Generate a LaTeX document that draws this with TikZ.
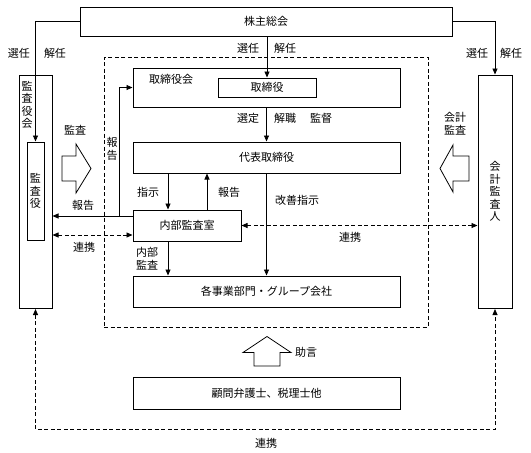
\documentclass[tikz,border=0pt]{standalone}
\usepackage{fontspec}
\newfontfamily\jp{Noto Sans CJK JP}
\usetikzlibrary{arrows.meta}

\begin{document}
\begin{tikzpicture}[x=1pt,y=-1pt,
    font=\jp\fontsize{11}{12.5}\selectfont,
    blk/.style={draw,line width=1pt,inner sep=0pt},
    arr/.style={line width=0.8pt,-{Triangle[length=6pt,width=5pt]}},
    dsh/.style={line width=0.8pt,dash pattern=on 4pt off 2.5pt},
    lbl/.style={inner sep=0pt},
    vert/.style={inner sep=0pt,align=center}]
    \useasboundingbox (0,0) rectangle (531,453);
    % boxes
    \node[blk,minimum width=372pt,minimum height=29pt] (soukai) at (266,21.5) {株主総会};
    \node[draw,dsh,minimum width=324pt,minimum height=270pt] (grp) at (266,192) {};
    \node[blk,minimum width=267pt,minimum height=39pt] (torikai) at (266.5,87.5) {};
    \node[blk,minimum width=98pt,minimum height=19pt] (toriyaku) at (267,87.5) {取締役};
    \node[blk,minimum width=267pt,minimum height=31pt] (daihyo) at (266.5,157.5) {代表取締役};
    \node[blk,minimum width=108pt,minimum height=31pt] (naibu) at (187,225.5) {内部監査室};
    \node[blk,minimum width=267pt,minimum height=31pt] (jigyo) at (266.5,291.5) {各事業部門・グループ会社};
    \node[blk,minimum width=267pt,minimum height=32pt] (komon) at (266.5,393) {顧問弁護士、税理士他};
    \node[blk,minimum width=33pt,minimum height=233.5pt] (kansakai) at (35.5,191.75) {};
    \node[blk,minimum width=17pt,minimum height=98pt,align=center] (kansayaku) at (35.5,191) {監\\査\\役};
    \node[blk,minimum width=34pt,minimum height=233.5pt,align=center] (kaikei) at (495,191.75) {会\\計\\監\\査\\人};
    \node[vert] (kansakaitxt) at (27,105) {監\\査\\役\\会};
    \node[lbl] (torikaitxt) at (171,79) {取締役会};

    % selection and dismissal
    \draw[arr] (soukai.west) -| (kansayaku.north);
    \draw[arr] (soukai.east) -| (kaikei.north);
    \draw[arr] (toriyaku.north |- soukai.south) -- (toriyaku.north);
    \draw[arr] (torikai.south) -- (daihyo.north);
    \node[lbl] (sen1) at (19,53) {選任};
    \node[lbl] (kai1) at (55,53) {解任};
    \node[lbl] (sen2) at (477,53) {選任};
    \node[lbl] (kai2) at (511,53) {解任};
    \node[lbl] (sen3) at (248,48) {選任};
    \node[lbl] (kai3) at (285,48) {解任};
    \node[lbl] (sentei) at (248,118) {選定};
    \node[lbl] (kaishoku) at (285,118) {解職};
    \node[lbl] (kantoku) at (321,118) {監督};

    % internal audit
    \draw[arr] ([xshift=-19pt]naibu.north |- daihyo.south) -- ([xshift=-19pt]naibu.north);
    \draw[arr] ([xshift=20pt]naibu.north) -- ([xshift=20pt]naibu.north |- daihyo.south);
    \draw[arr] ([xshift=-19pt]naibu.south) -- ([xshift=-19pt]naibu.south |- jigyo.north);
    \draw[arr] (daihyo.south) -- (jigyo.north);
    \node[lbl] (shiji) at (148,192) {指示};
    \node[lbl] (hokoku1) at (229,192) {報告};
    \node[lbl] (kaizen) at (297,200) {改善指示};
    \node[vert] (naibukansa) at (147,258.5) {内部\\監査};

    % reports to auditors and board
    \coordinate (rp) at ([yshift=9.5pt]naibu.west);
    \draw[arr] (rp) -- (rp -| kansakai.east);
    \draw[arr] ([xshift=-13pt]rp) |- (torikai.west);
    \node[lbl] (hokoku2) at (83,205) {報告};
    \node[vert] (hokoku3) at (112,149) {報\\告};

    % cooperation
    \draw[dsh,{Triangle[length=6pt,width=5pt]}-{Triangle[length=6pt,width=5pt]}]
        ([yshift=-9.5pt]naibu.west -| kansakai.east) -- ([yshift=-9.5pt]naibu.west);
    \draw[dsh,{Triangle[length=6pt,width=5pt]}-{Triangle[length=6pt,width=5pt]}]
        (naibu.east) -- (naibu.east -| kaikei.west);
    \draw[dsh,{Triangle[length=6pt,width=5pt]}-{Triangle[length=6pt,width=5pt]}]
        (kansakai.south) -- ++(0,120.5) -| (kaikei.south);
    \node[lbl] (renkei1) at (84,247) {連携};
    \node[lbl] (renkei2) at (350,237) {連携};
    \node[lbl] (renkei3) at (266,443) {連携};

    % block arrows
    \draw[line width=0.8pt] (62,156) -- (76,156) -- (76,144) -- (91,168.5)
        -- (76,193) -- (76,181) -- (62,181) -- cycle;
    \draw[line width=0.8pt] (469,156) -- (453,156) -- (453,145) -- (440,168.5)
        -- (453,192) -- (453,181) -- (469,181) -- cycle;
    \draw[line width=0.8pt] (254,366) -- (254,352.5) -- (243,352.5) -- (267,336.5)
        -- (291,352.5) -- (280,352.5) -- (280,366) -- cycle;
    \node[lbl] (kansa) at (75,130) {監査};
    \node[vert] (kaikeikansa) at (455,123.5) {会計\\監査};
    \node[lbl] (jogen) at (306,352) {助言};
\end{tikzpicture}
\end{document}
